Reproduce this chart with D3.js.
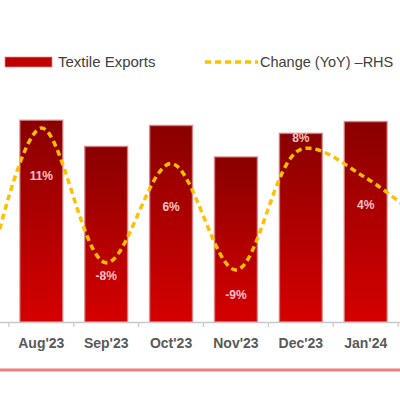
<!DOCTYPE html>
<html>
<head>
<meta charset="utf-8">
<script src="https://cdn.jsdelivr.net/npm/d3@7"></script>
<style>
  body { margin: 0; background: #fff; }
  svg { display: block; font-family: "Liberation Sans", Arial, sans-serif; }
</style>
</head>
<body>
<svg id="chart" width="400" height="400"></svg>
<script>
// months (first and last sit just outside the visible window)
const months = ["Jul'23", "Aug'23", "Sep'23", "Oct'23", "Nov'23", "Dec'23", "Jan'24", "Feb'24"];
// textile exports, USD bn
const exportsBn = [null, 1.54, 1.34, 1.50, 1.26, 1.44, 1.53, null];
// YoY change, %
const changeYoY = [-17, 11, -8, 6, -9, 8, 4, -3];
// label nudges for the % labels (px, relative to the point)
const labelDy = [0, 48, 13, 43, 25, -12, 27, 0];

const svg = d3.select('#chart');

const x = d3.scaleBand()
  .domain(months)
  .range([-56, 463])
  .paddingInner(0.34)
  .paddingOuter(0.17);

const visible = months.slice(1, 7);

const yBar = d3.scaleLinear().domain([0, 2]).range([322, 60]);
const yLine = d3.scaleLinear().domain([-10, 12]).range([277, 121]);

// gradient for bars
const defs = svg.append('defs');
const grad = defs.append('linearGradient')
  .attr('id', 'barGrad')
  .attr('x1', 0).attr('y1', 0).attr('x2', 0).attr('y2', 1);
grad.append('stop').attr('offset', '0%').attr('stop-color', '#8a0000');
grad.append('stop').attr('offset', '100%').attr('stop-color', '#d60000');

// legend
const legend = svg.append('g').attr('class', 'legend');
legend.append('rect')
  .attr('x', 5).attr('y', 57).attr('width', 47).attr('height', 10)
  .attr('fill', '#c00000')
  .attr('stroke', 'rgba(230,140,140,0.7)')
  .attr('stroke-width', 1);
legend.append('text')
  .attr('x', 58).attr('y', 62).attr('dy', '0.35em')
  .attr('font-size', 15).attr('fill', '#404040')
  .text('Textile Exports');
legend.append('line')
  .attr('x1', 205).attr('x2', 258).attr('y1', 62).attr('y2', 62)
  .attr('stroke', '#ffc000').attr('stroke-width', 3.5)
  .attr('stroke-dasharray', '6,4');
legend.append('text')
  .attr('x', 260).attr('y', 62).attr('dy', '0.35em')
  .attr('font-size', 14.5).attr('fill', '#404040')
  .text('Change (YoY) \u2013RHS');

// bars
const barData = months.map((m, i) => ({ m, v: exportsBn[i] })).filter(d => d.v != null);
svg.append('g').selectAll('rect')
  .data(barData)
  .enter()
  .append('rect')
  .attr('x', d => x(d.m))
  .attr('y', d => yBar(d.v))
  .attr('width', x.bandwidth())
  .attr('height', d => yBar(0) - yBar(d.v))
  .attr('fill', 'url(#barGrad)')
  .attr('stroke', 'rgba(215,130,130,0.75)')
  .attr('stroke-width', 1.5);

// x axis
const axisG = svg.append('g');
axisG.append('line')
  .attr('x1', 0).attr('x2', 400).attr('y1', 322.5).attr('y2', 322.5)
  .attr('stroke', '#c8c8c8').attr('stroke-width', 1.5);
axisG.selectAll('.tick')
  .data(months)
  .enter()
  .append('line')
  .attr('x1', d => x(d) - x.step() * x.paddingInner() / 2)
  .attr('x2', d => x(d) - x.step() * x.paddingInner() / 2)
  .attr('y1', 322).attr('y2', 327)
  .attr('stroke', '#c8c8c8').attr('stroke-width', 1.2);
axisG.selectAll('.lbl')
  .data(visible)
  .enter()
  .append('text')
  .attr('x', d => x(d) + x.bandwidth() / 2)
  .attr('y', 343)
  .attr('dy', '0.35em')
  .attr('text-anchor', 'middle')
  .attr('font-size', 14)
  .attr('font-weight', 'bold')
  .attr('fill', '#595959')
  .text(d => d);

// YoY line
const pts = months.map((m, i) => [x(m) + x.bandwidth() / 2, yLine(changeYoY[i])]);
svg.append('path')
  .attr('d', d3.line().curve(d3.curveCatmullRom.alpha(0.5))(pts))
  .attr('fill', 'none')
  .attr('stroke', '#ffc000')
  .attr('stroke-width', 3.5)
  .attr('stroke-dasharray', '6,4');

// % labels
svg.append('g').selectAll('text')
  .data(months.map((m, i) => ({ m, v: changeYoY[i], dy: labelDy[i] })).slice(1, 7))
  .enter()
  .append('text')
  .attr('x', d => x(d.m) + x.bandwidth() / 2)
  .attr('y', d => yLine(d.v) + d.dy)
  .attr('dy', '0.35em')
  .attr('text-anchor', 'middle')
  .attr('font-size', 12)
  .attr('font-weight', 'bold')
  .attr('fill', '#f7c4c4')
  .text(d => d.v + '%');

// bottom rule
svg.append('line')
  .attr('x1', 0).attr('x2', 400).attr('y1', 370).attr('y2', 370)
  .attr('stroke', '#f08080').attr('stroke-width', 3);
</script>
</body>
</html>
